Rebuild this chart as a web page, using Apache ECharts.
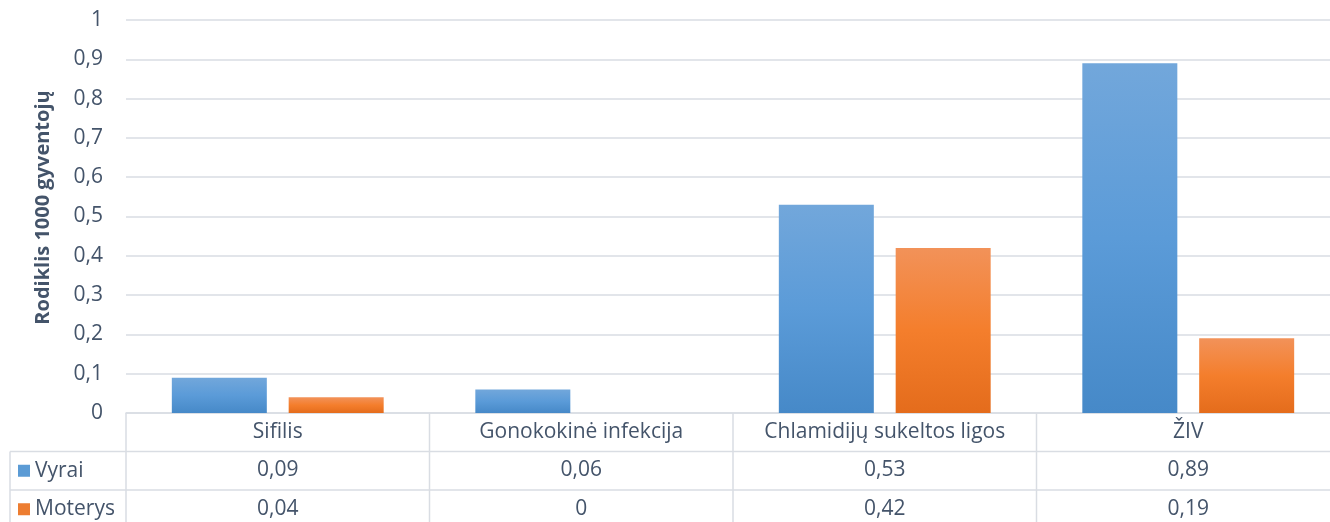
<!DOCTYPE html>
<html>
<head>
<meta charset="utf-8">
<script src="https://cdn.jsdelivr.net/npm/echarts@6/dist/echarts.min.js"></script>
<style>
  html, body { margin: 0; padding: 0; background: #fff; overflow: hidden; }
  #chart { width: 1342px; height: 522px; }
</style>
</head>
<body>
<div id="chart"></div>
<script>
// Rodiklis 1000 gyventojų pagal ligą ir lytį
const categories = ['Sifilis', 'Gonokokinė infekcija', 'Chlamidijų sukeltos ligos', 'ŽIV'];
const vyrai = [0.09, 0.06, 0.53, 0.89];
const moterys = [0.04, 0, 0.42, 0.19];
const seriesNames = ['Vyrai', 'Moterys'];
const yTicks = [0, 0.1, 0.2, 0.3, 0.4, 0.5, 0.6, 0.7, 0.8, 0.9, 1];
const yTitle = 'Rodiklis 1000 gyventojų';

const FONT = '"Open Sans", "Noto Sans", sans-serif';
const FS = 21;
const TEXT = '#44546a';
const LINE = '#d9dde3';
const fmt = v => String(v).replace('.', ',');

const blue = new echarts.graphic.LinearGradient(0, 0, 0, 1, [
  { offset: 0, color: '#72a7db' },
  { offset: 0.5, color: '#5b9bd8' },
  { offset: 1, color: '#4689c8' }
]);
const orange = new echarts.graphic.LinearGradient(0, 0, 0, 1, [
  { offset: 0, color: '#f29259' },
  { offset: 0.5, color: '#f47e2c' },
  { offset: 1, color: '#e46c1c' }
]);
const seriesColors = [blue, orange];
const swatchColors = ['#5b9bd5', '#ed7d31'];

// table geometry (rows beneath the plot); the plot runs slightly past the right edge
const chartW = 1342;
const gridLeft = 126, gridWidth = 1214, axisY = 413, gridTop = 20;
const rowH = 38.5, tableLeft = 10;
const bandW = gridWidth / categories.length;

const valueAxis = (rows, offset) => ({
  type: 'category',
  data: categories,
  position: 'bottom',
  offset: offset,
  axisLine: { show: false },
  axisTick: { show: false },
  splitLine: { show: false },
  axisLabel: {
    interval: 0,
    margin: 19,
    verticalAlign: 'middle',
    fontFamily: FONT, fontSize: FS, color: TEXT,
    formatter: (val, idx) => fmt(rows[idx])
  }
});

const graphics = [];
// vertical table lines
for (let i = 0; i < categories.length; i++) {
  const x = gridLeft + bandW * i;
  graphics.push({ type: 'line', silent: true,
    shape: { x1: x, y1: axisY, x2: x, y2: 522 },
    style: { stroke: LINE, lineWidth: 1.5 } });
}
graphics.push({ type: 'line', silent: true,
  shape: { x1: tableLeft, y1: axisY + rowH, x2: tableLeft, y2: 522 },
  style: { stroke: LINE, lineWidth: 1.5 } });
// horizontal table lines
[1, 2].forEach(r => {
  graphics.push({ type: 'line', silent: true,
    shape: { x1: tableLeft, y1: axisY + rowH * r, x2: chartW, y2: axisY + rowH * r },
    style: { stroke: LINE, lineWidth: 1.5 } });
});
// series keys in the first column
seriesNames.forEach((name, i) => {
  const cy = axisY + rowH * (i + 1) + rowH / 2;
  graphics.push({ type: 'rect', silent: true,
    shape: { x: 18, y: cy - 6, width: 12, height: 12 },
    style: { fill: swatchColors[i] } });
  graphics.push({ type: 'text', silent: true,
    x: 35, y: cy,
    style: { text: name, fontFamily: FONT, fontSize: FS, fill: TEXT,
      verticalAlign: 'middle', align: 'left' } });
});

const chart = echarts.init(document.getElementById('chart'), null, { renderer: 'canvas' });
chart.setOption({
  animation: false,
  backgroundColor: '#fff',
  grid: { left: gridLeft, width: gridWidth, top: gridTop, height: axisY - gridTop, containLabel: false },
  xAxis: [
    {
      type: 'category',
      data: categories,
      axisLine: { show: true, lineStyle: { color: LINE, width: 1.5 } },
      axisTick: { show: false },
      axisLabel: {
        interval: 0, margin: 19, verticalAlign: 'middle',
        fontFamily: FONT, fontSize: FS, color: TEXT
      }
    },
    valueAxis(vyrai, rowH),
    valueAxis(moterys, rowH * 2)
  ],
  yAxis: {
    type: 'value',
    min: yTicks[0], max: yTicks[yTicks.length - 1], interval: 0.1,
    name: yTitle,
    nameLocation: 'middle',
    nameGap: 73,
    nameTextStyle: { fontFamily: FONT, fontSize: 20, fontWeight: 'bold', color: TEXT, padding: [0, 0, 0, 18] },
    axisLine: { show: false },
    axisTick: { show: false },
    splitLine: { lineStyle: { color: LINE, width: 1.5 } },
    axisLabel: { margin: 23, fontFamily: FONT, fontSize: FS, color: TEXT, formatter: v => fmt(+v.toFixed(1)) }
  },
  series: [
    { name: seriesNames[0], type: 'bar', data: vyrai, barWidth: 95, barGap: '23%',
      itemStyle: { color: seriesColors[0] } },
    { name: seriesNames[1], type: 'bar', data: moterys, barWidth: 95, barGap: '23%',
      itemStyle: { color: seriesColors[1] } }
  ],
  graphic: graphics
});
</script>
</body>
</html>
